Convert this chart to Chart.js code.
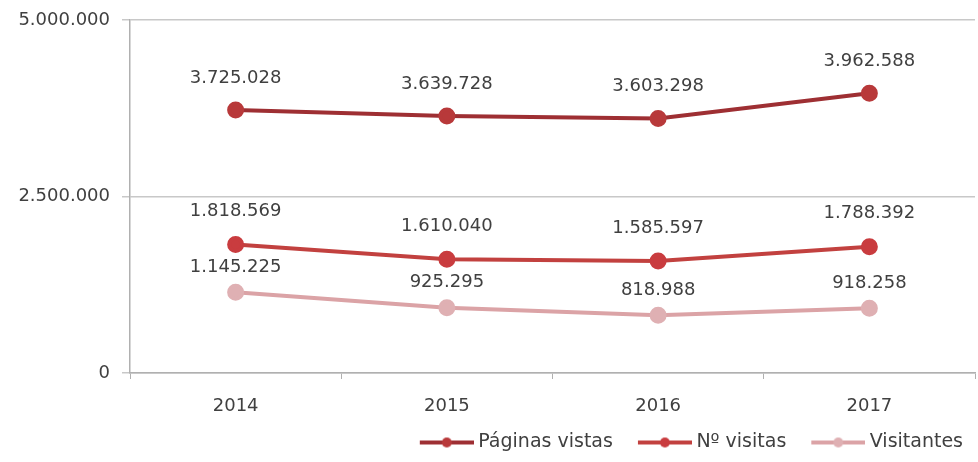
<!DOCTYPE html>
<html><head><meta charset="utf-8">
<script src="https://cdn.jsdelivr.net/npm/chart.js@4/dist/chart.umd.min.js"></script>
<style>html,body{margin:0;padding:0;background:#fff}#w{width:978px;height:462px}</style>
</head><body><div id="w"><canvas id="c" width="978" height="462"></canvas></div>
<script>
const categories = ['2014','2015','2016','2017'];
const paginasVistas = [3725028, 3639728, 3603298, 3962588];
const numVisitas = [1818569, 1610040, 1585597, 1788392];
const visitantes = [1145225, 925295, 818988, 918258];
const seriesNames = ['Páginas vistas','Nº visitas','Visitantes'];
const yTicks = [0, 2500000, 5000000];

const lineColors = ['#9e2f33','#c2413f','#dba3a6'];
const pointColors = ['#b8393a','#c93c3f','#dfb0b3'];
const labelOffsets = [32, 33, 25];
const FONT = '"DejaVu Sans", Verdana, sans-serif';
const fmt = v => v.toLocaleString('de-DE');

// legend icon: transparent lead-in (spacing) + line with marker
function legendIcon(lc, pc){
  const cv = document.createElement('canvas');
  cv.width = 72; cv.height = 14;
  const x = cv.getContext('2d');
  x.strokeStyle = lc; x.lineWidth = 4;
  x.beginPath(); x.moveTo(18,7); x.lineTo(72,7); x.stroke();
  x.fillStyle = pc; x.beginPath(); x.arc(45,7,5,0,Math.PI*2); x.fill();
  return cv;
}
const icons = lineColors.map((c,i)=>legendIcon(c, pointColors[i]));

const labelPlugin = {
  id:'vlabels',
  afterDatasetsDraw(chart){
    const ctx = chart.ctx;
    ctx.save();
    ctx.font = '18px ' + FONT;
    ctx.fillStyle = '#404040';
    ctx.textAlign = 'center';
    ctx.textBaseline = 'middle';
    chart.data.datasets.forEach((ds, di) => {
      chart.getDatasetMeta(di).data.forEach((pt, i) => {
        ctx.fillText(fmt(ds.data[i]), pt.x, pt.y - labelOffsets[di]);
      });
    });
    ctx.restore();
  }
};

const series = [paginasVistas, numVisitas, visitantes];
new Chart(document.getElementById('c'), {
  type:'line',
  data:{
    labels: categories,
    datasets: series.map((d,i)=>({
      label: seriesNames[i],
      data: d,
      borderColor: lineColors[i],
      backgroundColor: pointColors[i],
      pointBackgroundColor: pointColors[i],
      pointBorderColor: pointColors[i],
      borderWidth: 4,
      pointRadius: 6.5,
      pointHoverRadius: 6.5,
      tension: 0,
      fill: false
    }))
  },
  options:{
    responsive:false,
    animation:false,
    events:[],
    layout:{autoPadding:false, padding:{top:20,right:3,left:0,bottom:0}},
    plugins:{
      tooltip:{enabled:false},
      legend:{
        position:'bottom',
        align:'end',
        labels:{
          usePointStyle:true,
          pointStyleWidth:62,
          font:{size:19, family:FONT},
          color:'#404040',
          padding:12,
          generateLabels(chart){
            return chart.data.datasets.map((ds,i)=>({
              text: ds.label,
              pointStyle: icons[i],
              fontColor:'#404040',
              strokeStyle: 'transparent',
              fillStyle: 'transparent',
              lineWidth:0,
              datasetIndex:i,
              hidden:false
            }));
          }
        }
      }
    },
    scales:{
      x:{
        offset:true,
        afterFit(s){ s.height = 48; s.paddingLeft = 0; s.paddingRight = 0; },
        grid:{offset:true, drawOnChartArea:false, drawTicks:true, tickLength:6, color:'#b0b0b0'},
        border:{color:'#b0b0b0', width:1.5},
        ticks:{color:'#404040', font:{size:18, family:FONT}, padding:17}
      },
      y:{
        min:0, max:5000000,
        afterBuildTicks(s){ s.ticks = yTicks.map(v=>({value:v})); },
        afterFit(s){ s.width = 130; s.paddingTop = 0; s.paddingBottom = 0; },
        grid:{color:'#c8c8c8', lineWidth:1.5, tickLength:8},
        border:{color:'#b0b0b0', width:1.5},
        ticks:{color:'#404040', font:{size:18, family:FONT}, padding:12, callback:v=>fmt(v)}
      }
    }
  },
  plugins:[labelPlugin]
});
</script></body></html>
